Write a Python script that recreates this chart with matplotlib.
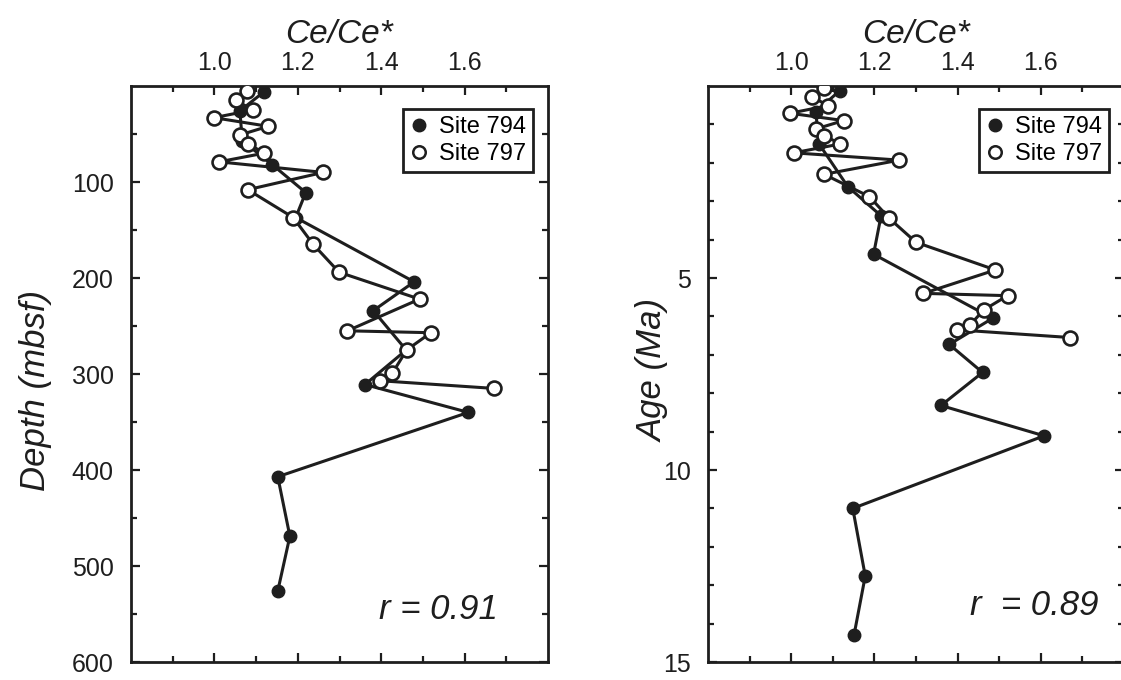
import matplotlib
matplotlib.use("Agg")
import matplotlib.pyplot as plt
from matplotlib.lines import Line2D
from matplotlib.ticker import FixedLocator

plt.rcParams['font.family'] = ['Liberation Sans', 'DejaVu Sans']

# ---- data ----
# Left panel: Ce/Ce* vs depth (mbsf)
depth_794 = [6, 26, 57, 82, 111, 137, 204, 234, 275, 311, 340, 407, 469, 526]
ce_794_depth = [1.119, 1.061, 1.067, 1.139, 1.219, 1.195, 1.479, 1.381, 1.460,
                1.361, 1.609, 1.152, 1.181, 1.152]
depth_797 = [5, 15, 25, 33, 42, 51, 60, 70, 79, 90, 108, 137, 165, 194, 222,
             255, 257, 275, 299, 307, 315]
ce_797_depth = [1.077, 1.052, 1.092, 0.999, 1.129, 1.061, 1.081, 1.119, 1.011,
                1.261, 1.080, 1.189, 1.237, 1.299, 1.492, 1.319, 1.519, 1.461,
                1.427, 1.397, 1.670]

# Right panel: Ce/Ce* vs age (Ma)
age_794 = [0.12, 0.67, 1.51, 2.62, 3.38, 4.38, 6.05, 6.73, 7.46, 8.32, 9.11,
           11.0, 12.76, 14.3]
ce_794_age = [1.117, 1.059, 1.067, 1.136, 1.216, 1.198, 1.484, 1.380, 1.460,
              1.360, 1.608, 1.148, 1.178, 1.151]
age_797 = [0.06, 0.28, 0.51, 0.71, 0.90, 1.12, 1.29, 1.51, 1.74, 1.93, 2.30,
           2.88, 3.45, 4.07, 4.79, 5.40, 5.46, 5.83, 6.22, 6.35, 6.55]
ce_797_age = [1.079, 1.049, 1.089, 0.997, 1.126, 1.059, 1.079, 1.118, 1.006,
              1.260, 1.079, 1.188, 1.236, 1.300, 1.491, 1.318, 1.520, 1.463,
              1.430, 1.399, 1.670]

labels = ["Site 794", "Site 797"]
x_major = [1.0, 1.2, 1.4, 1.6]
x_minor = [0.9, 1.1, 1.3, 1.5, 1.7]
x_ticklabels = ["1.0", "1.2", "1.4", "1.6"]
depth_major = [100, 200, 300, 400, 500, 600]
depth_minor = [50, 150, 250, 350, 450, 550]
age_major = [5, 10, 15]
age_minor = [1, 2, 3, 4, 6, 7, 8, 9, 11, 12, 13, 14]
r_texts = ["r = 0.91", "r  = 0.89"]

INK = "#1e1e1e"
W, H = 1121, 680
fig = plt.figure(figsize=(W / 100, H / 100), dpi=100)

axL = fig.add_axes([131 / W, (H - 662) / H, 417 / W, 576 / H])
axR = fig.add_axes([708 / W, (H - 662) / H, 416 / W, 576 / H])


def style(ax, ymax, ymaj, ymin, ylabel, label_xy, rtext, rx, ry):
    ax.set_xlim(0.8, 1.8)
    ax.set_ylim(ymax, 0)
    ax.xaxis.set_major_locator(FixedLocator(x_major))
    ax.xaxis.set_minor_locator(FixedLocator(x_minor))
    ax.set_xticklabels(x_ticklabels)
    ax.yaxis.set_major_locator(FixedLocator(ymaj))
    ax.yaxis.set_minor_locator(FixedLocator(ymin))
    ax.tick_params(axis='both', which='both', direction='in', top=True,
                   bottom=True, left=True, right=True, labeltop=True,
                   labelbottom=False, colors=INK, labelsize=18, width=1.6)
    ax.tick_params(axis='both', which='major', length=6.5)
    ax.tick_params(axis='both', which='minor', length=4)
    ax.tick_params(axis='x', which='major', pad=8)
    ax.tick_params(axis='y', which='major', pad=12.5)
    for s in ax.spines.values():
        s.set_linewidth(2.0)
        s.set_color(INK)
    ax.xaxis.set_label_position('top')
    ax.set_xlabel("Ce/Ce*", fontsize=24, style='italic', color=INK, labelpad=6)
    ax.set_ylabel(ylabel, fontsize=25, style='italic', color=INK)
    ax.yaxis.set_label_coords(*label_xy)
    ax.text(rx, ry, rtext, transform=ax.transAxes, ha='right', va='baseline',
            fontsize=25, style='italic', color=INK)
    handles = [
        Line2D([], [], linestyle='none', marker='o', markersize=9,
               markerfacecolor=INK, markeredgecolor=INK),
        Line2D([], [], linestyle='none', marker='o', markersize=9,
               markerfacecolor='white', markeredgecolor=INK,
               markeredgewidth=1.8),
    ]
    leg = ax.legend(handles, labels, loc='upper right',
                    bbox_to_anchor=(1 - 15 / 417, 1 - 23 / 576),
                    borderaxespad=0, fontsize=17, frameon=True, fancybox=False,
                    edgecolor=INK, handlelength=0.7, handletextpad=0.5,
                    borderpad=0.3, labelspacing=0.2)
    leg.get_frame().set_linewidth(2.0)
    leg.get_frame().set_alpha(1)


def draw(ax, x1, y1, x2, y2):
    ax.plot(x1, y1, color=INK, lw=2.2, marker='o', markersize=9,
            markerfacecolor=INK, markeredgecolor=INK, zorder=3)
    ax.plot(x2, y2, color=INK, lw=2.2, marker='o', markersize=10,
            markerfacecolor='white', markeredgecolor=INK,
            markeredgewidth=1.9, zorder=4)


draw(axL, ce_794_depth, depth_794, ce_797_depth, depth_797)
draw(axR, ce_794_age, age_794, ce_797_age, age_797)

style(axL, 600, depth_major, depth_minor, "Depth (mbsf)",
      ((52 - 131) / 417, (662 - 390) / 576), r_texts[0],
      (498 - 131) / 417, (662 - 619) / 576)
style(axR, 15, age_major, age_minor, "Age (Ma)",
      ((670 - 708) / 416, (662 - 370) / 576), r_texts[1],
      (1098 - 708) / 416, (662 - 615) / 576)

fig.savefig("out.png", dpi=100, facecolor='white')
